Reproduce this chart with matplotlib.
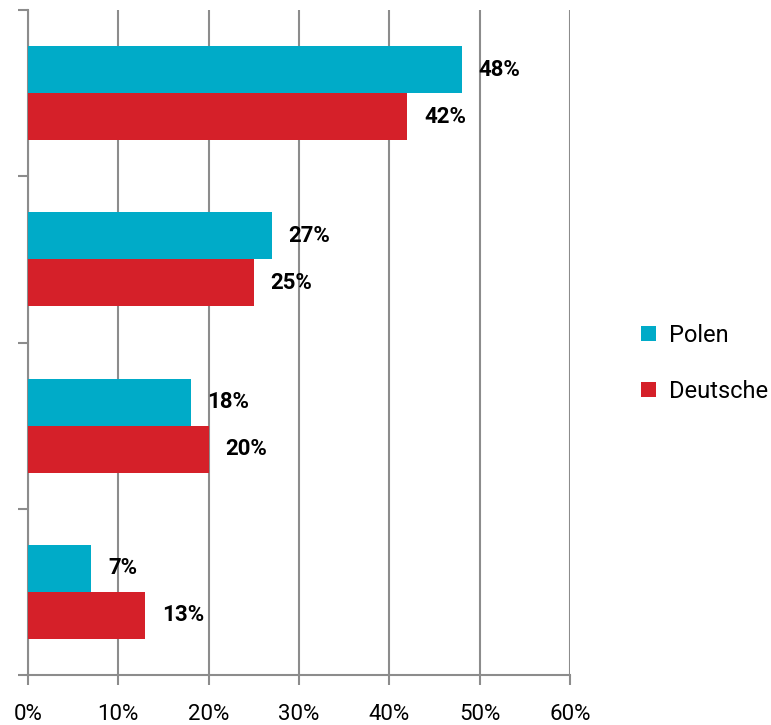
import numpy as np
import matplotlib
matplotlib.use("Agg")
import matplotlib.pyplot as plt
from matplotlib.ticker import FuncFormatter

plt.rcParams['font.family'] = ['Roboto', 'DejaVu Sans']

# categories bottom to top (no labels shown in the original)
groups = np.arange(4)
polen = [7, 18, 27, 48]
deutsche = [13, 20, 25, 42]
series_names = ["Polen", "Deutsche"]
x_ticks = [0, 10, 20, 30, 40, 50, 60]

blue = "#00abc8"
red = "#d52029"
grey = "#8c8c8c"

fig = plt.figure(figsize=(7.71, 7.25), dpi=100)
ax = fig.add_axes([28 / 771, 1 - 675 / 725, (570 - 28) / 771, (675 - 10) / 725])

h = 0.283
centers = groups + 0.5
ax.barh(centers + h / 2, polen, height=h, color=blue, label=series_names[0], zorder=3)
ax.barh(centers - h / 2, deutsche, height=h, color=red, label=series_names[1], zorder=3)

for c, p, d in zip(centers, polen, deutsche):
    ax.annotate(f"{p}%", (p, c + h / 2), xytext=(12, 0), textcoords="offset points",
                va="center", ha="left", fontsize=16, fontweight="bold", zorder=4)
    ax.annotate(f"{d}%", (d, c - h / 2), xytext=(12, 0), textcoords="offset points",
                va="center", ha="left", fontsize=16, fontweight="bold", zorder=4)

ax.set_xlim(0, 60)
ax.set_ylim(0, 4)
ax.set_xticks(x_ticks)
ax.xaxis.set_major_formatter(FuncFormatter(lambda v, _: f"{v:.0f}%"))
ax.set_yticks(np.arange(5))
ax.set_yticklabels([])
ax.grid(axis="x", color=grey, linewidth=1.5, zorder=0)
ax.set_axisbelow(True)

for s in ["top", "right"]:
    ax.spines[s].set_visible(False)
for s in ["left", "bottom"]:
    ax.spines[s].set_color(grey)
    ax.spines[s].set_linewidth(1.5)
ax.tick_params(axis="both", color=grey, width=1.5, length=7)
ax.tick_params(axis="x", labelsize=16, pad=14)

ax.legend(loc="center left", bbox_to_anchor=(604 / 542, 0.469), frameon=False,
          fontsize=17, handlelength=0.6, handleheight=0.6, labelspacing=1.4,
          handletextpad=0.55, borderaxespad=0)

fig.savefig("out.png", dpi=100)
